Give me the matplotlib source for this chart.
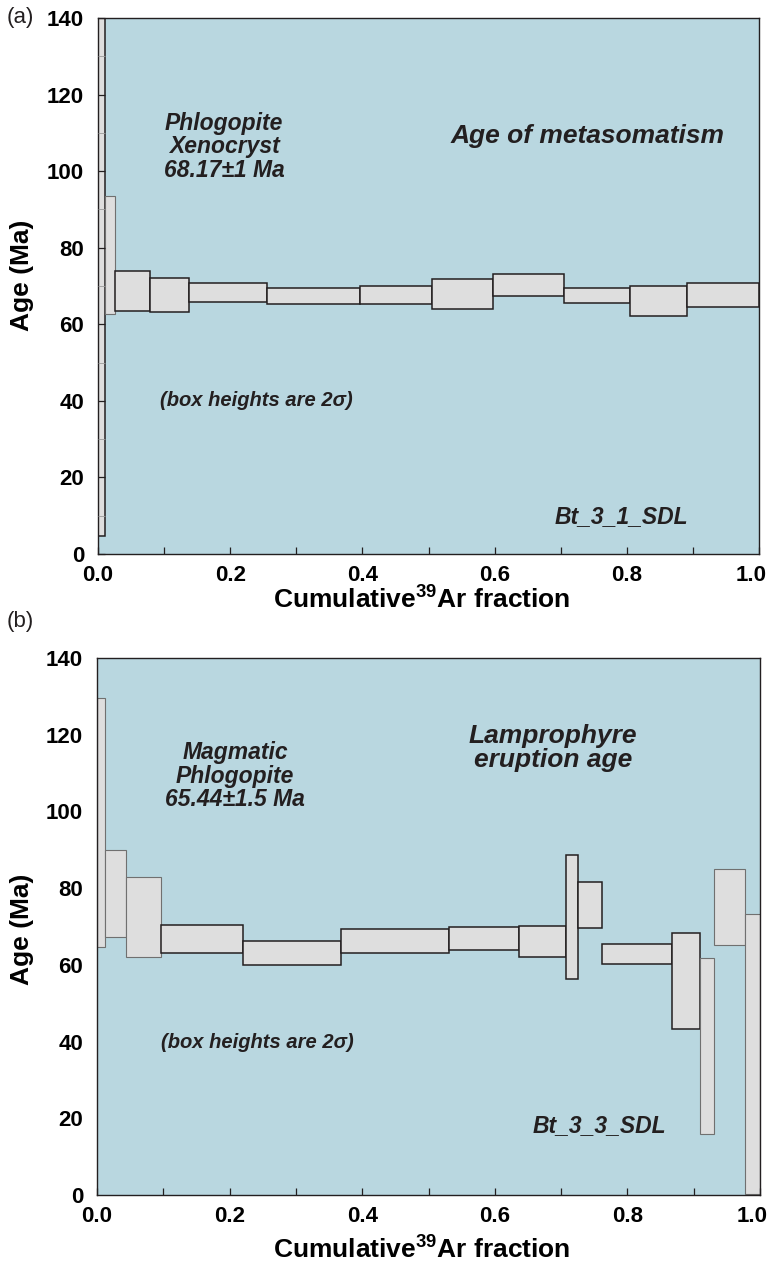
import numpy as np
import matplotlib
matplotlib.use("Agg")
import matplotlib.pyplot as plt
from matplotlib.ticker import MultipleLocator, FormatStrFormatter
from matplotlib.transforms import ScaledTranslation

plt.rcParams['font.family'] = ['Liberation Sans', 'DejaVu Sans']
plt.rcParams['mathtext.fontset'] = 'custom'
plt.rcParams['mathtext.rm'] = 'Liberation Sans'
plt.rcParams['mathtext.bf'] = 'Liberation Sans:bold'

# Step-heating spectra: cumulative 39Ar fraction edges and 2-sigma age limits (Ma)
a_edges = [0.0, 0.011, 0.026, 0.078, 0.137, 0.255, 0.397, 0.506, 0.598, 0.705, 0.805, 0.891, 1.0]
a_lo = [4.7, 62.7, 63.6, 63.3, 65.9, 65.3, 65.3, 64.0, 67.4, 65.5, 62.1, 64.5]
a_hi = [146.0, 93.5, 74.0, 72.2, 70.7, 69.5, 70.1, 71.9, 73.2, 69.4, 70.0, 70.7]
a_plateau = [True, False, True, True, True, True, True, True, True, True, True, True]

b_edges = [0.0, 0.012, 0.043, 0.096, 0.220, 0.368, 0.531, 0.636, 0.707, 0.726,
           0.762, 0.868, 0.910, 0.931, 0.978, 1.0]
b_lo = [64.6, 67.3, 62.1, 63.1, 59.9, 63.1, 64.0, 62.0, 56.3, 69.6, 60.3, 43.4, 15.9, 65.2, 0.3]
b_hi = [129.6, 89.9, 82.8, 70.5, 66.3, 69.3, 69.8, 70.1, 88.6, 81.6, 65.5, 68.3, 61.9, 85.1, 73.3]
b_plateau = [False, False, False, True, True, True, True, True, True, True, True, True,
             False, False, False]

W, H = 769, 1277
BG = '#b9d7e0'
BOX = '#dedede'
INK = '#231f20'
GREY = '#707070'


def px(x, y):
    # pixel position (from top-left) to figure fraction
    return x / W, 1 - y / H


def draw_spectrum(ax, edges, lo, hi, plateau, show_yticks):
    edges = np.asarray(edges)
    lo = np.asarray(lo)
    hi = np.asarray(hi)
    left = edges[:-1]
    width = np.diff(edges)
    for i in range(len(lo)):
        ax.bar(left[i], hi[i] - lo[i], width[i], bottom=lo[i], align='edge',
               color=BOX, edgecolor=INK if plateau[i] else GREY,
               linewidth=1.1 if plateau[i] else 0.8, zorder=2)

    ax.set_facecolor(BG)
    ax.set_xlim(0, 1)
    ax.set_ylim(0, 140)
    for s in ax.spines.values():
        s.set_color(INK)
        s.set_linewidth(1.0)
    ax.set_axisbelow(False)

    ax.xaxis.set_major_locator(MultipleLocator(0.2))
    ax.xaxis.set_minor_locator(MultipleLocator(0.1))
    ax.xaxis.set_major_formatter(FormatStrFormatter('%.1f'))
    ax.yaxis.set_major_locator(MultipleLocator(20))
    ax.tick_params(axis='x', which='both', direction='in', length=5, width=0.9,
                   color=INK, pad=8, labelsize=16, top=False)
    if show_yticks:
        ax.yaxis.set_minor_locator(MultipleLocator(10))
        ax.tick_params(axis='y', which='major', direction='in', length=5, width=0.9,
                       color=INK, pad=10, labelsize=16, right=False)
        ax.tick_params(axis='y', which='minor', direction='in', length=5, width=0.6,
                       color='#9a9a9a', right=False)
    else:
        ax.tick_params(axis='y', which='both', length=0, pad=10, labelsize=16, right=False)
    for lab in ax.get_xticklabels() + ax.get_yticklabels():
        lab.set_fontweight('bold')

    ylab = ax.set_ylabel('Age (Ma)', fontsize=19, fontweight='bold')
    ylab.set_verticalalignment('center')
    xlab = ax.set_xlabel(r'Cumulative$^{\mathbf{39}}$Ar fraction', fontsize=19,
                         fontweight='bold')
    xlab.set_verticalalignment('center')


fig = plt.figure(figsize=(W / 100, H / 100), dpi=100)

l, b0 = px(98, 554)
r, t = px(759, 18)
ax_a = fig.add_axes([l, b0, r - l, t - b0])
draw_spectrum(ax_a, a_edges, a_lo, a_hi, a_plateau, True)
ax_a.yaxis.set_label_coords(-0.115, 0.52)
ax_a.xaxis.set_label_coords(0.49, -0.084)

l, b0 = px(97, 1195)
r, t = px(760, 658)
ax_b = fig.add_axes([l, b0, r - l, t - b0])
draw_spectrum(ax_b, b_edges, b_lo, b_hi, b_plateau, False)
ax_b.yaxis.set_label_coords(-0.113, 0.495)
ax_b.xaxis.set_label_coords(0.49, -0.100)

ital = dict(fontweight='bold', fontstyle='italic', color=INK, ha='center', va='center')

# panel (a) annotations
fig.text(*px(20, 18), '(a)', fontsize=16, ha='center', va='center', color=INK)
fig.text(*px(224, 147), 'Phlogopite\nXenocryst\n68.17\u00b11 Ma', fontsize=16.5,
         linespacing=1.05, **ital)
fig.text(*px(588, 136), 'Age of metasomatism', fontsize=19, **ital)
fig.text(*px(256, 400), '(box heights are 2\u03c3)', fontsize=14.5, **ital)
fig.text(*px(621, 517), 'Bt_3_1_SDL', fontsize=16.5, **ital)

# panel (b) annotations
fig.text(*px(20, 621), '(b)', fontsize=16, ha='center', va='center', color=INK)
fig.text(*px(235, 776), 'Magmatic\nPhlogopite\n65.44\u00b11.5 Ma', fontsize=16.5,
         linespacing=1.05, **ital)
fig.text(*px(553, 748), 'Lamprophyre\neruption age', fontsize=19, linespacing=1.0, **ital)
fig.text(*px(257, 1042), '(box heights are 2\u03c3)', fontsize=14.5, **ital)
fig.text(*px(599, 1126), 'Bt_3_3_SDL', fontsize=16.5, **ital)

# pull the "1.0" tick labels slightly left so they stay on the canvas
fig.canvas.draw()
for ax in (ax_a, ax_b):
    for lab in ax.get_xticklabels():
        if lab.get_text() == '1.0':
            lab.set_transform(lab.get_transform() +
                              ScaledTranslation(-6 / 72, 0, fig.dpi_scale_trans))

fig.savefig('out.png', dpi=100, facecolor='white')
